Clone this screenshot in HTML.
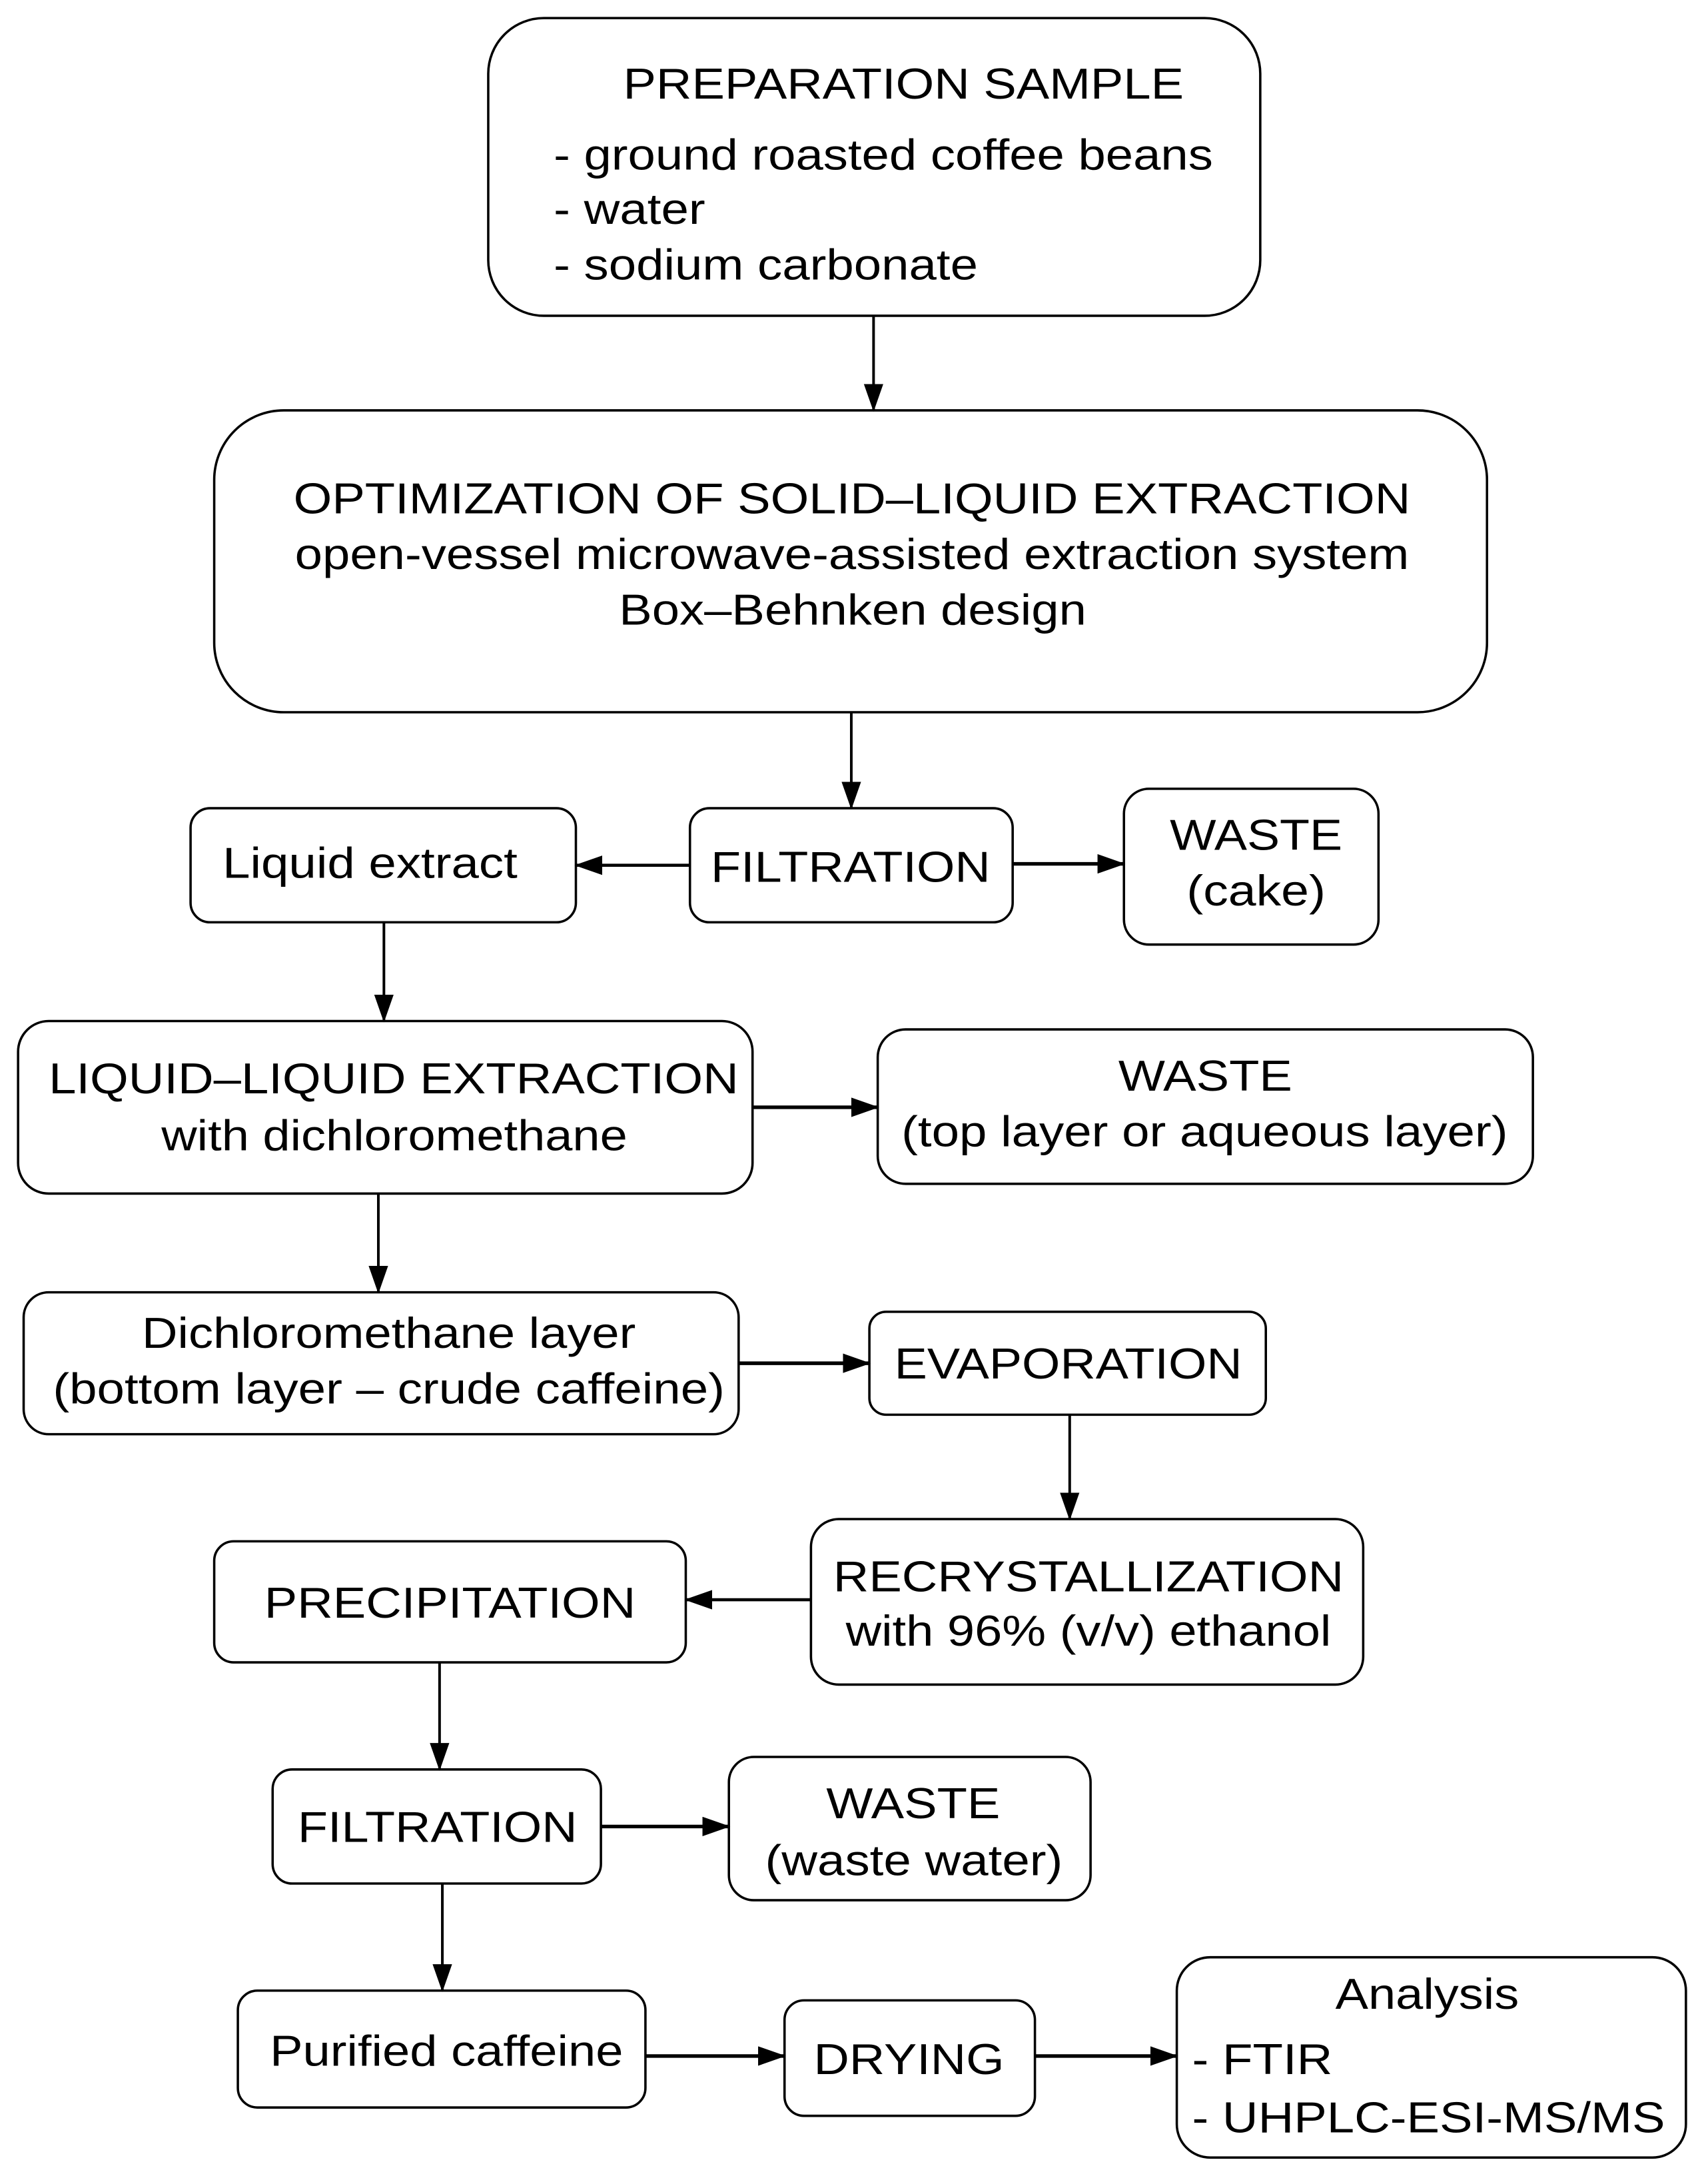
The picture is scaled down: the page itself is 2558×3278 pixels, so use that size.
<!DOCTYPE html>
<html><head><meta charset="utf-8"><style>
html,body{margin:0;padding:0;background:#fff;}
svg{display:block;}
text{font-family:"Liberation Sans",Arial,sans-serif;font-size:31px;fill:#000;}
</style></head><body>
<svg width="2558" height="3278" viewBox="0 0 1225 1570" preserveAspectRatio="none" xmlns="http://www.w3.org/2000/svg">
<defs>
<marker id="ah" markerWidth="20" markerHeight="14" refX="19" refY="7" orient="auto" markerUnits="userSpaceOnUse">
<path d="M0,0 L20,7 L0,14 Z" fill="#000"/>
</marker>
</defs>
<g fill="#fff" stroke="#000" stroke-width="1.7">
<rect x="351" y="13" width="555" height="214" rx="40"/>
<rect x="154" y="295" width="915" height="217" rx="50"/>
<rect x="137" y="581" width="277" height="82" rx="14"/>
<rect x="496" y="581" width="232" height="82" rx="14"/>
<rect x="808" y="567" width="183" height="112" rx="18"/>
<rect x="13" y="734" width="528" height="124" rx="22"/>
<rect x="631" y="740" width="471" height="111" rx="20"/>
<rect x="17" y="929" width="514" height="102" rx="18"/>
<rect x="625" y="943" width="285" height="74" rx="12"/>
<rect x="583" y="1092" width="397" height="119" rx="20"/>
<rect x="154" y="1108" width="339" height="87" rx="14"/>
<rect x="196" y="1272" width="236" height="82" rx="14"/>
<rect x="524" y="1263" width="260" height="103" rx="18"/>
<rect x="171" y="1431" width="293" height="84" rx="14"/>
<rect x="564" y="1438" width="180" height="83" rx="14"/>
<rect x="846" y="1407" width="366" height="144" rx="24"/>
</g>
<g stroke="#000" fill="none" marker-end="url(#ah)">
<line x1="628" y1="227" x2="628" y2="295" stroke-width="1.9"/>
<line x1="612" y1="512" x2="612" y2="581" stroke-width="1.9"/>
<line x1="496" y1="622" x2="414" y2="622" stroke-width="2.2"/>
<line x1="728" y1="621" x2="808" y2="621" stroke-width="2.6"/>
<line x1="276" y1="663" x2="276" y2="734" stroke-width="1.9"/>
<line x1="541" y1="796" x2="631" y2="796" stroke-width="2.6"/>
<line x1="272" y1="858" x2="272" y2="929" stroke-width="1.9"/>
<line x1="531" y1="980" x2="625" y2="980" stroke-width="2.6"/>
<line x1="769" y1="1017" x2="769" y2="1092" stroke-width="1.9"/>
<line x1="583" y1="1150" x2="493" y2="1150" stroke-width="2.2"/>
<line x1="316" y1="1195" x2="316" y2="1272" stroke-width="1.9"/>
<line x1="432" y1="1313" x2="524" y2="1313" stroke-width="2.6"/>
<line x1="318" y1="1354" x2="318" y2="1431" stroke-width="1.9"/>
<line x1="464" y1="1478" x2="564" y2="1478" stroke-width="2.6"/>
<line x1="744" y1="1478" x2="846" y2="1478" stroke-width="2.6"/>
</g>
<g>
<text x="448" y="71" textLength="403" lengthAdjust="spacingAndGlyphs">PREPARATION SAMPLE</text>
<text x="398" y="122" textLength="474" lengthAdjust="spacingAndGlyphs">- ground roasted coffee beans</text>
<text x="398" y="161" textLength="109" lengthAdjust="spacingAndGlyphs">- water</text>
<text x="398" y="201" textLength="305" lengthAdjust="spacingAndGlyphs">- sodium carbonate</text>
<text x="211" y="369" textLength="803" lengthAdjust="spacingAndGlyphs">OPTIMIZATION OF SOLID–LIQUID EXTRACTION</text>
<text x="212" y="409" textLength="801" lengthAdjust="spacingAndGlyphs">open-vessel microwave-assisted extraction system</text>
<text x="445" y="449" textLength="336" lengthAdjust="spacingAndGlyphs">Box–Behnken design</text>
<text x="160" y="631" textLength="212" lengthAdjust="spacingAndGlyphs">Liquid extract</text>
<text x="511" y="634" textLength="201" lengthAdjust="spacingAndGlyphs">FILTRATION</text>
<text x="841" y="611" textLength="124" lengthAdjust="spacingAndGlyphs">WASTE</text>
<text x="853" y="651" textLength="100" lengthAdjust="spacingAndGlyphs">(cake)</text>
<text x="35" y="786" textLength="496" lengthAdjust="spacingAndGlyphs">LIQUID–LIQUID EXTRACTION</text>
<text x="116" y="827" textLength="335" lengthAdjust="spacingAndGlyphs">with dichloromethane</text>
<text x="804" y="784" textLength="125" lengthAdjust="spacingAndGlyphs">WASTE</text>
<text x="648" y="824" textLength="436" lengthAdjust="spacingAndGlyphs">(top layer or aqueous layer)</text>
<text x="102" y="969" textLength="355" lengthAdjust="spacingAndGlyphs">Dichloromethane layer</text>
<text x="38" y="1009" textLength="483" lengthAdjust="spacingAndGlyphs">(bottom layer – crude caffeine)</text>
<text x="643" y="991" textLength="250" lengthAdjust="spacingAndGlyphs">EVAPORATION</text>
<text x="599" y="1144" textLength="367" lengthAdjust="spacingAndGlyphs">RECRYSTALLIZATION</text>
<text x="608" y="1183" textLength="349" lengthAdjust="spacingAndGlyphs">with 96% (v/v) ethanol</text>
<text x="190" y="1163" textLength="267" lengthAdjust="spacingAndGlyphs">PRECIPITATION</text>
<text x="214" y="1324" textLength="201" lengthAdjust="spacingAndGlyphs">FILTRATION</text>
<text x="594" y="1307" textLength="125" lengthAdjust="spacingAndGlyphs">WASTE</text>
<text x="550" y="1348" textLength="214" lengthAdjust="spacingAndGlyphs">(waste water)</text>
<text x="194" y="1485" textLength="254" lengthAdjust="spacingAndGlyphs">Purified caffeine</text>
<text x="585" y="1491" textLength="137" lengthAdjust="spacingAndGlyphs">DRYING</text>
<text x="960" y="1444" textLength="132" lengthAdjust="spacingAndGlyphs">Analysis</text>
<text x="857" y="1491" textLength="101" lengthAdjust="spacingAndGlyphs">- FTIR</text>
<text x="857" y="1533" textLength="340" lengthAdjust="spacingAndGlyphs">- UHPLC-ESI-MS/MS</text>
</g>
</svg>
</body></html>
